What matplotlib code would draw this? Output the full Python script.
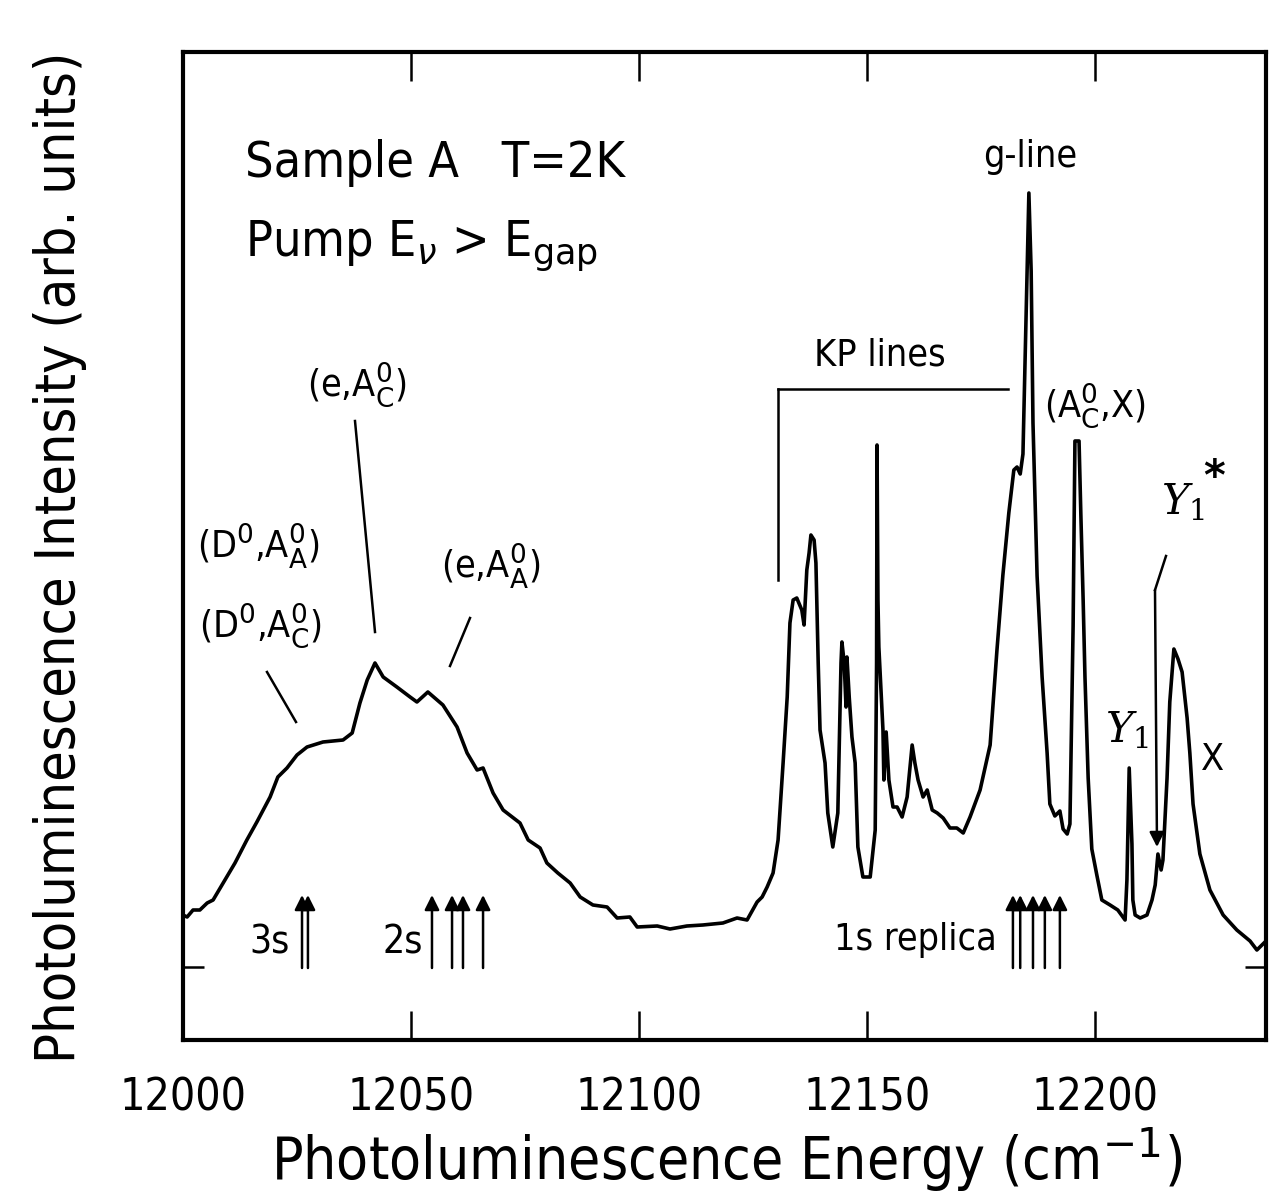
import matplotlib
matplotlib.use('Agg')
import matplotlib.pyplot as plt
from matplotlib.lines import Line2D

# ---------------- data ----------------
energy = [12000.0, 12000.9, 12002.2, 12003.7, 12005.3, 12006.6, 12008.8, 12011.4, 12014.0, 12016.2,
          12019.1, 12020.8, 12022.8, 12025.0, 12027.2, 12030.7, 12035.1, 12037.1, 12038.8, 12040.4,
          12042.1, 12043.9, 12046.9, 12049.8, 12051.3, 12053.7, 12057.0, 12060.1, 12062.3, 12064.5,
          12065.8, 12068.0, 12070.2, 12073.9, 12075.7, 12078.3, 12079.8, 12082.2, 12084.9, 12087.1,
          12089.9, 12093.0, 12095.2, 12098.0, 12099.6, 12104.0, 12106.8, 12110.5, 12114.0, 12118.4,
          12121.5, 12123.7, 12125.9, 12127.0, 12128.1, 12129.4, 12130.5, 12131.6, 12132.5, 12133.1,
          12133.8, 12134.6, 12135.7, 12136.2, 12136.8, 12137.3, 12137.7, 12138.4, 12138.8, 12139.3,
          12139.7, 12140.8, 12141.4, 12142.5, 12143.6, 12144.3, 12144.5, 12145.0, 12145.4, 12145.6,
          12146.1, 12146.7, 12147.4, 12148.0, 12149.1, 12150.7, 12151.8, 12152.1, 12152.2, 12152.4,
          12152.6, 12153.5, 12153.7, 12154.2, 12154.8, 12155.7, 12156.6, 12157.7, 12158.8, 12159.9,
          12160.5, 12161.2, 12162.3, 12163.2, 12164.3, 12165.4, 12166.7, 12168.2, 12169.7, 12171.1,
          12172.6, 12174.8, 12177.0, 12178.5, 12179.8, 12181.1, 12182.2, 12182.9, 12183.6, 12184.2,
          12184.6, 12185.1, 12185.5, 12186.0, 12186.4, 12187.3, 12188.4, 12189.5, 12190.1, 12191.2,
          12192.3, 12193.0, 12193.9, 12194.5, 12195.2, 12195.6, 12196.5, 12196.9, 12197.4, 12197.8,
          12198.5, 12199.3, 12200.4, 12201.5, 12203.3, 12205.0, 12206.6, 12207.0, 12207.5, 12208.1,
          12208.3, 12208.8, 12209.9, 12211.4, 12212.5, 12213.2, 12213.8, 12214.5, 12214.9, 12215.8,
          12216.4, 12217.3, 12218.2, 12219.1, 12220.2, 12220.8, 12221.5, 12223.0, 12225.2, 12228.1,
          12231.1, 12234.0, 12235.5, 12236.6, 12237.5]
intensity = [5.2, 5.0, 5.7, 5.7, 6.4, 6.7, 8.4, 10.4, 12.7, 14.5,
             17.0, 19.0, 19.9, 21.2, 22.0, 22.5, 22.7, 23.4, 26.4, 28.7,
             30.4, 29.0, 28.0, 27.0, 26.5, 27.5, 26.2, 24.0, 21.4, 19.7,
             19.9, 17.4, 15.7, 14.4, 12.7, 11.9, 10.4, 9.4, 8.4, 7.0,
             6.2, 6.0, 4.9, 5.0, 4.0, 4.1, 3.8, 4.1, 4.2, 4.4,
             4.9, 4.7, 6.5, 7.0, 8.0, 9.4, 12.7, 20.4, 27.0, 34.4,
             36.7, 36.9, 35.7, 34.2, 39.7, 41.4, 43.2, 42.7, 40.4, 30.4,
             23.7, 20.4, 15.4, 12.0, 15.4, 30.4, 32.5, 30.4, 26.0, 31.0,
             27.0, 23.0, 20.4, 12.0, 9.0, 9.0, 13.7, 30.4, 52.2, 36.7,
             32.0, 23.7, 18.7, 23.5, 18.7, 16.0, 16.0, 15.0, 17.0, 22.2,
             20.4, 18.7, 17.0, 17.7, 15.7, 15.4, 14.9, 13.9, 13.9, 13.4,
             15.0, 17.7, 22.2, 31.7, 39.2, 45.4, 49.7, 50.0, 49.3, 51.3,
             59.4, 69.6, 77.4, 69.6, 54.4, 39.1, 29.0, 21.4, 16.3, 15.1,
             15.6, 13.8, 13.3, 14.3, 34.1, 52.6, 52.6, 45.2, 36.7, 29.0,
             18.9, 11.8, 9.2, 6.7, 6.2, 5.7, 4.7, 8.7, 19.9, 12.3,
             6.7, 5.2, 4.9, 5.2, 6.7, 8.2, 11.3, 9.7, 10.7, 18.9,
             26.5, 31.8, 30.8, 29.5, 24.9, 21.4, 16.3, 11.3, 7.7, 5.2,
             3.7, 2.6, 1.7, 2.2, 2.6]

arrows_3s = [12026.1, 12027.4]
arrows_2s = [12054.6, 12059.0, 12061.4, 12065.8]
arrows_1s = [12182.0, 12183.6, 12186.4, 12189.0, 12192.3]
arrow_top = 7.2

xticks = [12000, 12050, 12100, 12150, 12200]
xtick_labels = ['12000', '12050', '12100', '12150', '12200']

# ---------------- figure ----------------
W, H = 1274, 1203
fig = plt.figure(figsize=(W / 100, H / 100), dpi=100)
ax = fig.add_axes([183 / W, 1 - 1040 / H, (1266 - 183) / W, (1040 - 52) / H])

FONT = dict(family='DejaVu Sans', fontstretch='condensed', color='black')
plt.rcParams['mathtext.fontset'] = 'dejavusans'


def F(x, y):
    """reference pixel -> figure fraction"""
    return (x / W, 1 - y / H)


ax.plot(energy, intensity, color='black', lw=2.6, solid_joinstyle='round')
ax.set_xlim(12000, 12237.5)
ax.set_ylim(-7.3, 91.5)

for s in ax.spines.values():
    s.set_linewidth(3.0)

ax.set_xticks(xticks)
ax.set_xticklabels(xtick_labels)
ax.set_yticks([0])
ax.set_yticklabels([])
ax.tick_params(axis='x', direction='in', length=21, width=1.8, top=True, bottom=True,
               labelsize=32, pad=26)
ax.tick_params(axis='y', direction='in', length=15, width=1.8, left=True, right=True)
for lab in ax.get_xticklabels():
    lab.set_fontstretch('condensed')
    lab.set_family('DejaVu Sans')

# excitation-level arrows
for group in (arrows_3s, arrows_2s, arrows_1s):
    for e in group:
        ax.annotate('', xy=(e, arrow_top), xytext=(e, -0.1),
                    arrowprops=dict(arrowstyle='-|>', lw=1.8, color='black',
                                    mutation_scale=22, shrinkA=0, shrinkB=0))

# ---------------- texts ----------------
fig.text(*F(245, 163), 'Sample A   T=2K', ha='left', va='center', fontsize=36, **FONT)
fig.text(*F(245, 246), r'Pump E$_{\nu}$ > E$_{\mathrm{gap}}$', ha='left', va='center',
         fontsize=36, **FONT)

fig.text(*F(357, 385), r'(e,A$_{\mathrm{C}}^{\mathrm{0}}$)', ha='center', va='center', fontsize=27, **FONT)
fig.text(*F(258, 546), r'(D$^{\mathrm{0}}$,A$_{\mathrm{A}}^{\mathrm{0}}$)', ha='center', va='center', fontsize=27, **FONT)
fig.text(*F(260, 626), r'(D$^{\mathrm{0}}$,A$_{\mathrm{C}}^{\mathrm{0}}$)', ha='center', va='center', fontsize=27, **FONT)
fig.text(*F(491, 566), r'(e,A$_{\mathrm{A}}^{\mathrm{0}}$)', ha='center', va='center', fontsize=27, **FONT)
fig.text(*F(1095, 406), r'(A$_{\mathrm{C}}^{\mathrm{0}}$,X)', ha='center', va='center', fontsize=27, **FONT)
fig.text(*F(880, 355), 'KP lines', ha='center', va='center', fontsize=27, **FONT)
fig.text(*F(1030, 157), 'g-line', ha='center', va='center', fontsize=27, **FONT)
fig.text(*F(1213, 760), 'X', ha='center', va='center', fontsize=27, **FONT)
fig.text(*F(270, 942), '3s', ha='center', va='center', fontsize=28, **FONT)
fig.text(*F(403, 942), '2s', ha='center', va='center', fontsize=28, **FONT)
fig.text(*F(915, 940), '1s replica', ha='center', va='center', fontsize=27, **FONT)

fig.text(*F(1127, 730), r'$Y_1$', ha='center', va='center', fontsize=30,
         math_fontfamily='dejavuserif')
fig.text(*F(1183, 502), r'$Y_1$', ha='center', va='center', fontsize=30,
         math_fontfamily='dejavuserif')
fig.text(*F(1214, 478), '*', ha='center', va='center', fontsize=30, fontweight='bold')

fig.text(*F(727, 1160), r'Photoluminescence Energy (cm$^{-1}$)', ha='center', va='center',
         fontsize=42, **FONT)
fig.text(*F(60, 557), 'Photoluminescence Intensity (arb. units)', ha='center', va='center',
         rotation=90, fontsize=40, **FONT)

# ---------------- pointer lines ----------------
def seg(p0, p1, lw=1.8):
    a, b = F(*p0), F(*p1)
    fig.add_artist(Line2D([a[0], b[0]], [a[1], b[1]], color='black', lw=lw,
                          transform=fig.transFigure))

seg((355, 421), (375, 632))
seg((267, 672), (296, 722))
seg((470, 618), (450, 666))
# KP bracket
seg((778, 389), (1008, 389))
seg((778, 389), (778, 580))
# Y1* pointer
seg((1166, 556), (1155, 590))
fig.add_artist(matplotlib.patches.FancyArrowPatch(
    F(1155, 590), F(1157, 847), transform=fig.transFigure, arrowstyle='-|>',
    mutation_scale=22, lw=1.8, color='black', shrinkA=0, shrinkB=0))

fig.savefig('out.png', dpi=100, facecolor='white')
